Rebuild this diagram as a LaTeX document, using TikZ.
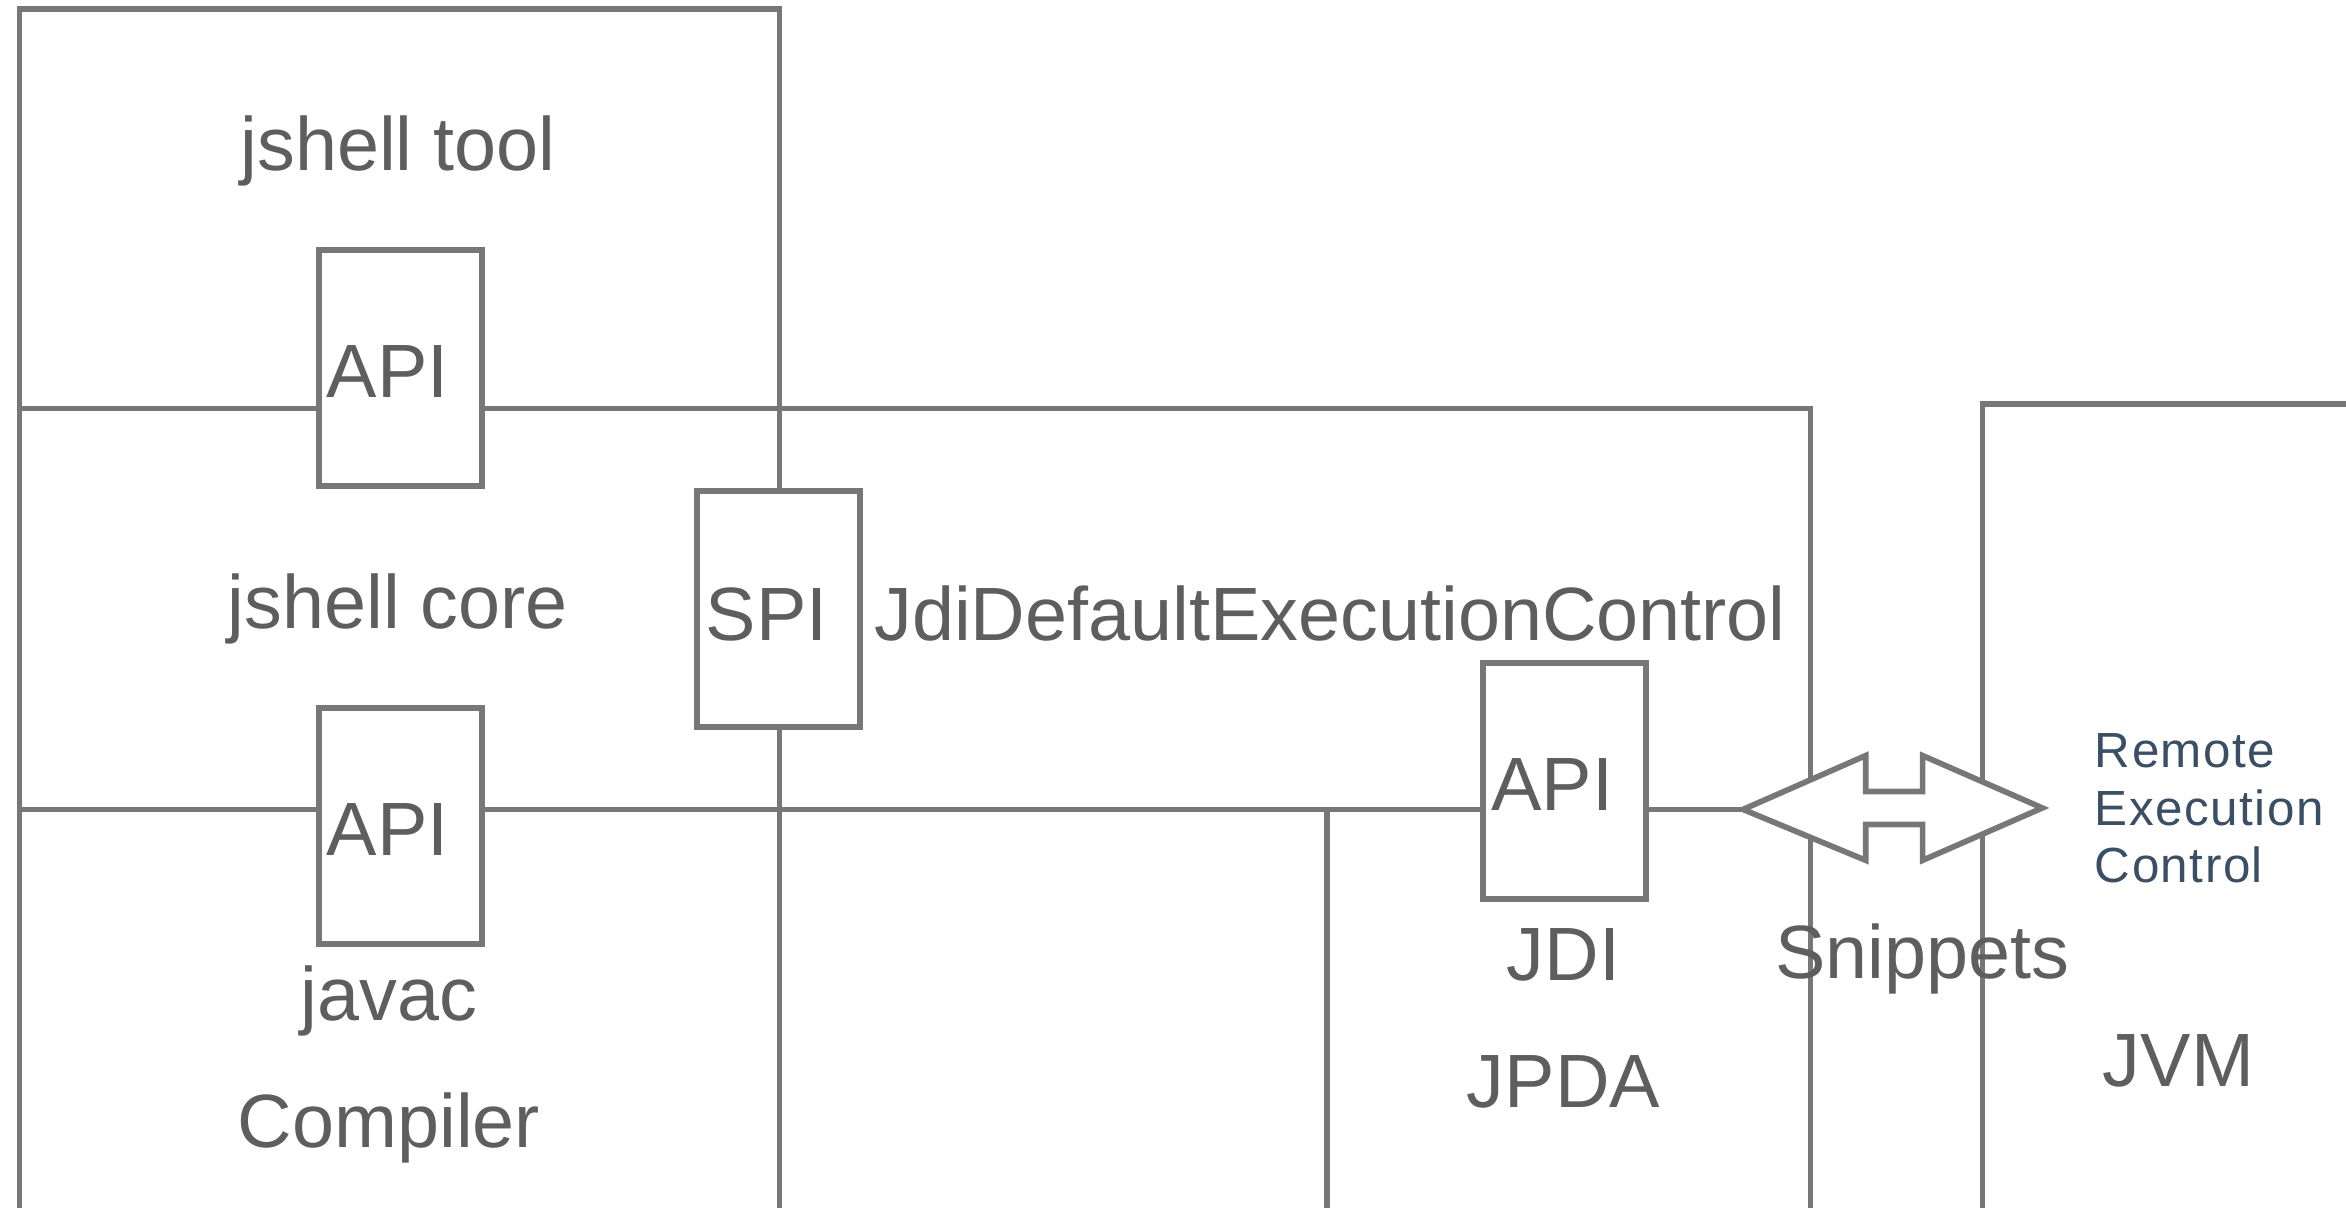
\documentclass[tikz,border=0pt]{standalone}
\usepackage{fontspec}
\setmainfont{Liberation Sans}
\definecolor{ln}{HTML}{777777}
\definecolor{tx}{HTML}{5E5E5E}
\definecolor{rc}{HTML}{3A4F63}
\begin{document}
\begin{tikzpicture}[x=1pt,y=-1pt,
  wall/.style={draw=ln, line width=3.8pt},
  port/.style={draw=ln, fill=white, line width=3.8pt, minimum width=109pt, minimum height=158pt, inner sep=0pt},
  lbl/.style={text=tx, font=\fontsize{50.5}{60}\selectfont, anchor=base, inner sep=0pt},
  rlbl/.style={text=rc, font=\fontsize{33}{39}\selectfont\addfontfeature{LetterSpace=3}, anchor=base west, inner sep=0pt},
  bigarrow/.style={draw=ln, fill=white, line width=3.8pt, line join=miter}]
\useasboundingbox (0,0) rectangle (1568,807);

% layer walls
\coordinate (tl) at (13,6);
\coordinate (tr) at (521,6);
\coordinate (bl) at (13,815);
\coordinate (midb) at (521,815);
\coordinate (coreL) at (13,273);
\coordinate (jdiR) at (1210,273);
\coordinate (jdiB) at (1210,815);
\coordinate (lowL) at (13,541);
\coordinate (arrL) at (1165,541);
\coordinate (jpdaT) at (887,541);
\coordinate (jpdaB) at (887,815);
\coordinate (jvmB) at (1325,815);
\coordinate (jvmT) at (1325,270);
\coordinate (jvmR) at (1575,270);

\draw[wall] (bl) -- (tl) -- (tr) -- (midb);
\draw[wall] (coreL) -- (jdiR) -- (jdiB);
\draw[wall] (lowL) -- (arrL);
\draw[wall] (jpdaT) -- (jpdaB);
\draw[wall] (jvmB) -- (jvmT) -- (jvmR);

% double arrow (Snippets)
\draw[bigarrow] (arrL) -- (1247,505) -- (1247,529) -- (1285,529) -- (1285,505)
  -- (1365,540) -- (1285,575) -- (1285,551) -- (1247,551) -- (1247,575) -- cycle;

% interface boxes
\node[port] (api1) at (267.5,246) {};
\node[port] (api2) at (267.5,552) {};
\node[port] (spi) at (520.5,407) {};
\node[port] (api3) at (1045.5,522) {};

% labels
\node[lbl] (ttool) at (266,114) {jshell tool};
\node[lbl] (tapi1) at (259,266) {API};
\node[lbl] (tcore) at (266,420) {jshell core};
\node[lbl] (tspi) at (512.5,428) {SPI};
\node[lbl] (tjdc) at (889,428) {JdiDefaultExecutionControl};
\node[lbl] (tapi3) at (1037.5,542) {API};
\node[lbl] (tapi2) at (259,572) {API};
\node[lbl] (tjavac) at (260,682) {javac};
\node[lbl] (tcomp) at (260,767) {Compiler};
\node[lbl] (tjdi) at (1045,655) {JDI};
\node[lbl] (tjpda) at (1045,740) {JPDA};
\node[lbl] (tsnip) at (1285,654) {Snippets};
\node[lbl] (tjvm) at (1456,726) {JVM};
\node[rlbl] (trem1) at (1400,513) {Remote};
\node[rlbl] (trem2) at (1400,552) {Execution};
\node[rlbl] (trem3) at (1400,590) {Control};
\end{tikzpicture}
\end{document}
